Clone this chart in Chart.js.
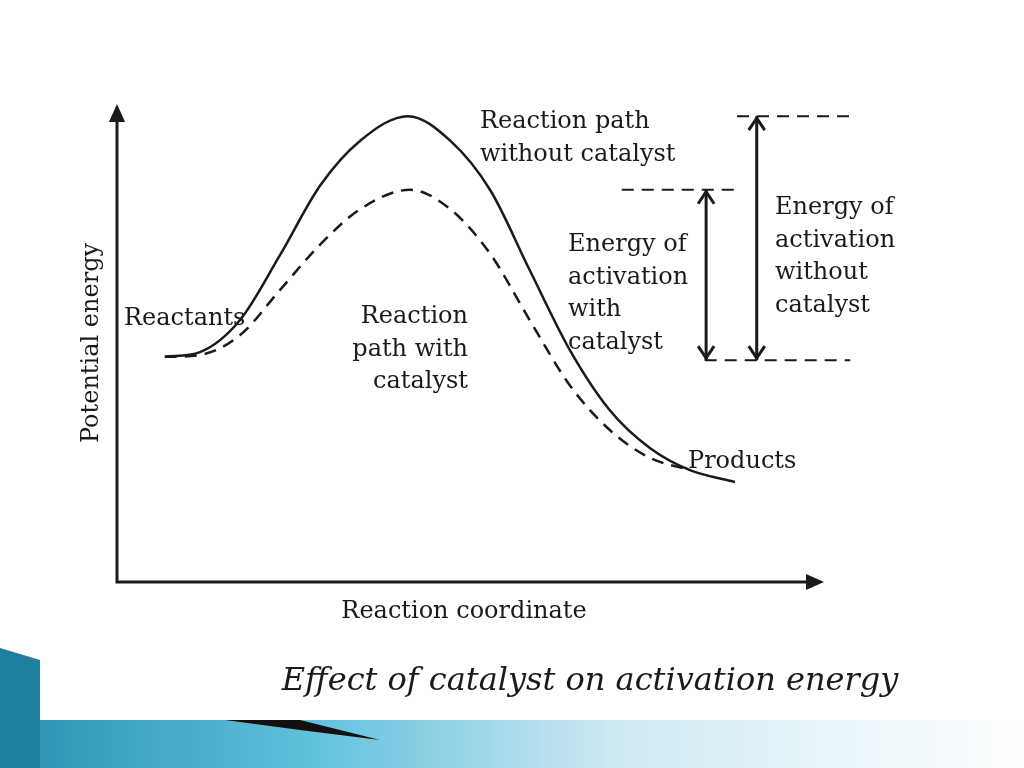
<!DOCTYPE html>
<html><head><meta charset="utf-8">
<script src="https://cdn.jsdelivr.net/npm/chart.js@4/dist/chart.umd.min.js"></script>
<style>html,body{margin:0;padding:0;background:#fff}#wrap{width:1024px;height:768px;position:relative}</style>
</head><body><div id="wrap"><canvas id="c" width="1024" height="768"></canvas></div>
<script>
// Reaction-coordinate units 0..100 on both axes
const pathNoCatX = [6.8, 11.8, 17.5, 23.2, 28.9, 34.6, 41.4, 47.4, 53.1, 58.7, 64.4, 70.1, 75.8, 81.5, 87.9];
const pathNoCatY = [47.7, 48.7, 55.5, 69.3, 84.0, 93.5, 98.7, 93.5, 83.0, 66.1, 49.2, 36.4, 28.4, 23.7, 21.2];
const pathCatX = [6.8, 11.8, 17.5, 23.2, 28.9, 34.6, 41.7, 47.4, 53.1, 58.7, 64.4, 70.1, 75.8, 81.5];
const pathCatY = [47.7, 48.1, 52.3, 61.9, 71.5, 79.0, 83.1, 79.0, 69.5, 55.5, 41.7, 32.2, 26.3, 23.7];
const levelTop = 98.7, levelCat = 83.1, levelReact = 47.0;
const arrowNoCatX = 91.0, arrowCatX = 83.8;

const INK = "#1a1a1a";
const FONT = '"DejaVu Serif", "Liberation Serif", serif';
const pts = (xs, ys) => xs.map((x, i) => ({ x, y: ys[i] }));
const dash = (x0, x1, y) => ({ data: [{ x: x0, y }, { x: x1, y }], borderColor: INK, borderWidth: 2, borderDash: [12, 8], pointRadius: 0, clip: false });
const vline = (x, y0, y1) => ({ data: [{ x, y: y0 }, { x, y: y1 }], borderColor: INK, borderWidth: 3, pointRadius: 0, clip: false });

const deco = {
  id: "deco",
  beforeDraw(chart) {
    const g = chart.ctx;
    g.save();
    g.fillStyle = "#fff";
    g.fillRect(0, 0, 1024, 768);
    const band = g.createLinearGradient(0, 0, 1024, 0);
    band.addColorStop(0, "#2a8fb0"); band.addColorStop(0.3, "#5fc0dc"); band.addColorStop(0.6, "#cfe9f2"); band.addColorStop(1, "#ffffff");
    g.fillStyle = band;
    g.beginPath(); g.moveTo(0, 720); g.lineTo(1024, 720); g.lineTo(1024, 768); g.lineTo(0, 768); g.fill();
    g.fillStyle = "#1e7f9e";
    g.beginPath(); g.moveTo(0, 648); g.lineTo(40, 660); g.lineTo(40, 768); g.lineTo(0, 768); g.fill();
    g.fillStyle = "#fff";
    g.fillRect(40, 640, 984, 80);
    g.fillStyle = "#111";
    g.beginPath(); g.moveTo(225, 720); g.lineTo(300, 720); g.lineTo(380, 740); g.lineTo(300, 730); g.fill();
    g.restore();
  },
  afterDatasetsDraw(chart) {
    const g = chart.ctx, a = chart.chartArea, xs = chart.scales.x, ys = chart.scales.y;
    g.save();
    g.strokeStyle = INK; g.fillStyle = INK; g.lineWidth = 3;
    g.beginPath(); g.moveTo(a.left, a.top + 5); g.lineTo(a.left, a.bottom); g.lineTo(a.right - 5, a.bottom); g.stroke();
    const head = (x, y, dx, dy, s) => { g.beginPath(); g.moveTo(x, y); g.lineTo(x - dx * s - dy * s * 0.45, y - dy * s - dx * s * 0.45); g.lineTo(x - dx * s + dy * s * 0.45, y - dy * s + dx * s * 0.45); g.fill(); };
    head(a.left, a.top - 6, 0, -1, 18);
    head(a.right + 4, a.bottom, 1, 0, 18);
    const arrows = [[arrowNoCatX, levelTop, levelReact], [arrowCatX, levelCat, levelReact]];
    for (const [x, y0, y1] of arrows) {
      const px = xs.getPixelForValue(x), t = ys.getPixelForValue(y0), b = ys.getPixelForValue(y1);
      g.lineWidth = 3;
      g.beginPath(); g.moveTo(px - 8, t + 14); g.lineTo(px, t + 2); g.lineTo(px + 8, t + 14); g.stroke();
      g.beginPath(); g.moveTo(px - 8, b - 14); g.lineTo(px, b - 2); g.lineTo(px + 8, b - 14); g.stroke();
    }
    g.font = "24px " + FONT; g.textBaseline = "alphabetic";
    const lines = (arr, x, y, align) => { g.textAlign = align; arr.forEach((s, i) => g.fillText(s, x, y + i * 32.5)); };
    lines(["Reaction path", "without catalyst"], 480, 128, "left");
    lines(["Energy of", "activation", "without", "catalyst"], 775, 214, "left");
    lines(["Energy of", "activation", "with", "catalyst"], 568, 251, "left");
    lines(["Reaction", "path with", "catalyst"], 468, 323, "right");
    lines(["Reactants"], 124, 325, "left");
    lines(["Products"], 688, 468, "left");
    lines(["Reaction coordinate"], 464, 618, "center");
    g.font = "italic 32px " + FONT; g.textAlign = "center";
    g.fillText("Effect of catalyst on activation energy", 590, 690);
    g.save(); g.translate(98, 343); g.rotate(-Math.PI / 2);
    g.font = "24px " + FONT; g.textAlign = "center"; g.fillText("Potential energy", 0, 0);
    g.restore();
    g.restore();
  },
};

new Chart(document.getElementById("c"), {
  type: "line",
  data: {
    datasets: [
      { data: pts(pathNoCatX, pathNoCatY), borderColor: INK, borderWidth: 2.5, cubicInterpolationMode: "monotone", pointRadius: 0 },
      { data: pts(pathCatX, pathCatY), borderColor: INK, borderWidth: 2.5, borderDash: [12, 8], cubicInterpolationMode: "monotone", pointRadius: 0 },
      dash(88.2, 104.3, levelTop),
      dash(71.8, 88.6, levelCat),
      dash(83.6, 104.3, levelReact),
      vline(arrowNoCatX, levelTop, levelReact),
      vline(arrowCatX, levelCat, levelReact),
    ],
  },
  options: {
    responsive: false,
    animation: false,
    layout: { padding: { left: 117, right: 204, top: 110, bottom: 186 } },
    scales: {
      x: { type: "linear", min: 0, max: 100, display: false },
      y: { type: "linear", min: 0, max: 100, display: false },
    },
    plugins: { legend: { display: false }, tooltip: { enabled: false } },
  },
  plugins: [deco],
});
</script></body></html>
